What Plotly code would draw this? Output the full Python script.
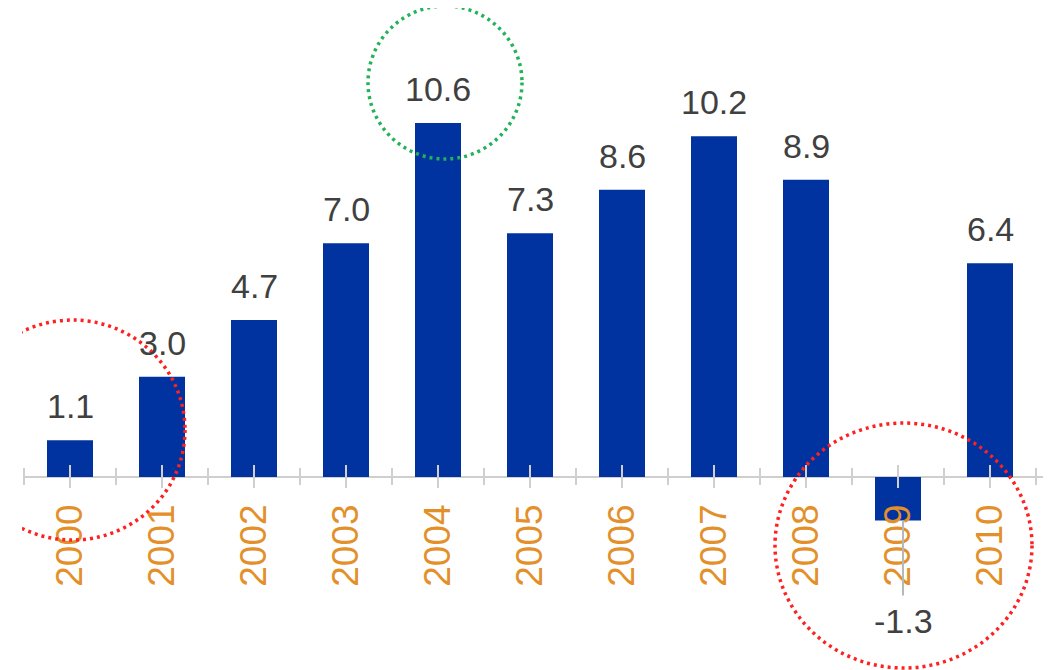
import plotly.graph_objects as go

# ---- data ----
years = [2000, 2001, 2002, 2003, 2004, 2005, 2006, 2007, 2008, 2009, 2010]
growth = [1.1, 3.0, 4.7, 7.0, 10.6, 7.3, 8.6, 10.2, 8.9, -1.3, 6.4]
year_labels = [str(y) for y in years]

# ---- geometry (pixel mapping, screen coords; page body has 8px margin) ----
W, H = 1051, 670
OFF = 8
LEFT_EDGE = 22    # screen pixel where plot area starts (clips the circles)
PX_PER_YEAR = 92.0
PX_PER_UNIT = 33.4
X0_PX = 70.0      # screen pixel of first category centre
ZERO_PX = 477.0   # screen pixel of y = 0

def xpx(p):
    return years[0] + (p - X0_PX) / PX_PER_YEAR

def ypx(p):
    return (ZERO_PX - p) / PX_PER_UNIT

x_range = [xpx(LEFT_EDGE), xpx(OFF + W)]
y_range = [ypx(OFF + H), ypx(OFF)]
axis_pos = (0 - y_range[0]) / (y_range[1] - y_range[0])

BAR_COLOR = "#0033a0"
LABEL_COLOR = "#404040"
TICK_LABEL_COLOR = "#e3902a"
GRID_GRAY = "#cfcfcf"
FONT = "Arial, 'Liberation Sans', sans-serif"

fig = go.Figure()
fig.add_trace(go.Bar(
    x=years, y=growth, width=0.5,
    marker=dict(color=BAR_COLOR, line=dict(width=0)),
    hoverinfo="x+y",
))

shapes = []
# axis line at y=0
shapes.append(dict(type="line", xref="x", yref="y",
                   x0=xpx(23), x1=xpx(1047), y0=0, y1=0,
                   line=dict(color=GRID_GRAY, width=2), layer="below"))
# ticks at centres (crossing the axis)
for yv in years:
    shapes.append(dict(type="line", xref="x", yref="y", ysizemode="pixel",
                       yanchor=0, x0=yv, x1=yv, y0=-11, y1=12,
                       line=dict(color=GRID_GRAY, width=2), layer="above"))
# ticks at boundaries
bounds = [years[0] - 0.5 + i for i in range(len(years) + 1)]
for b in bounds:
    shapes.append(dict(type="line", xref="x", yref="y", ysizemode="pixel",
                       yanchor=0, x0=b, x1=b, y0=-8, y1=9,
                       line=dict(color=GRID_GRAY, width=2), layer="above"))

annotations = []
for yr, v in zip(years, growth):
    if v >= 0:
        annotations.append(dict(x=yr, y=v, xref="x", yref="y", text=f"{v:.1f}",
                                showarrow=False, yanchor="bottom", yshift=13,
                                font=dict(size=34, color=LABEL_COLOR, family=FONT)))
    else:
        annotations.append(dict(x=yr, y=v, xref="x", yref="y", text=f"{v:.1f}",
                                showarrow=False, yanchor="middle", yshift=-101, xshift=5,
                                font=dict(size=34, color=LABEL_COLOR, family=FONT)))
        # leader line
        shapes.append(dict(type="line", xref="x", yref="y", ysizemode="pixel",
                           yanchor=v, x0=yr + 5 / PX_PER_YEAR, x1=yr + 5 / PX_PER_YEAR,
                           y0=0, y1=-75,
                           line=dict(color="#b8b8b8", width=2), layer="above"))

# highlight circles (screen pixel boxes)
circles = [
    ((-40, 320, 185, 540), "#ff2020"),
    ((775, 423, 1032, 668), "#ff2020"),
    ((368, 6, 522, 159), "#22b35a"),
]
for (l, t, r, b), col in circles:
    shapes.append(dict(type="circle", xref="x", yref="y",
                       x0=xpx(l), x1=xpx(r), y0=ypx(b), y1=ypx(t),
                       line=dict(color=col, width=3.5, dash="3px,4px"),
                       layer="above"))

fig.update_layout(
    width=W, height=H,
    margin=dict(l=LEFT_EDGE - OFF, r=0, t=0, b=0),
    paper_bgcolor="white", plot_bgcolor="white",
    showlegend=False,
    shapes=shapes,
    annotations=annotations,
    xaxis=dict(
        range=x_range, tickmode="array", tickvals=years, ticktext=year_labels,
        tickangle=-90, ticks="", showgrid=False, zeroline=False, showline=False,
        anchor="free", position=axis_pos, ticklabelstandoff=19,
        tickfont=dict(size=37, color=TICK_LABEL_COLOR, family=FONT),
    ),
    yaxis=dict(range=y_range, visible=False, showgrid=False, zeroline=False),
    font=dict(family=FONT),
)

fig.write_html("out.html")
